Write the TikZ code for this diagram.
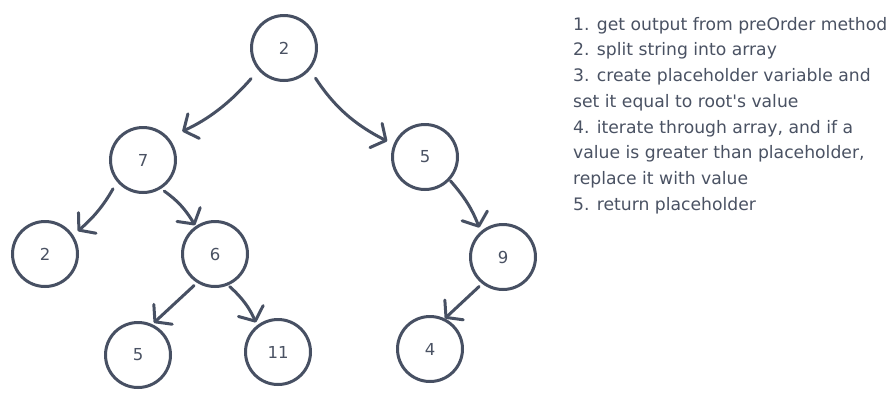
\documentclass[tikz,border=0pt]{standalone}
\usepackage{fontspec}
\setmainfont{DejaVu Sans}
\usetikzlibrary{arrows.meta}
\definecolor{slate}{HTML}{475063}
\definecolor{slatetext}{HTML}{4A5263}
\begin{document}
\begin{tikzpicture}[
  x=1pt, y=1pt,
  vertex/.style={
    draw=slate, circle, line width=3pt, minimum size=65pt, inner sep=0pt,
    text=slatetext, font=\fontsize{16.5}{18}\selectfont
  },
  link/.style={-{Straight Barb[length=11pt, width=27pt, round]}, line width=3pt,
    color=slate, line cap=round, line join=round, shorten <=4pt, shorten >=2pt},
  notes/.style={
    anchor=north west, align=left, inner sep=0pt,
    text=slatetext, font=\fontsize{17.2}{25.7}\selectfont
  }
]
  \fill[white] (0,0) rectangle (896,-400);
  \useasboundingbox (0,0) rectangle (896,-400);
  \node[vertex] (root) at (284,-48) {2};
  \node[vertex] (left7) at (143,-160) {7};
  \node[vertex] (right5) at (425,-157) {5};
  \node[vertex] (leaf2) at (45,-254) {2};
  \node[vertex] (mid6) at (215,-254) {6};
  \node[vertex] (right9) at (503,-257) {9};
  \node[vertex] (leaf5) at (138,-355) {5};
  \node[vertex] (leaf11) at (278,-352) {11};
  \node[vertex] (leaf4) at (430,-349) {4};
  \node[notes] (steps) at (573,-17) {1. get output from preOrder method\\2. split string into array\\3. create placeholder variable and\\set it equal to root\textquotesingle s value\\4. iterate through array, and if a\\value is greater than placeholder,\\replace it with value\\5. return placeholder};
  \draw[link, shorten <=11pt, shorten >=15pt] (root.221) to[bend left=12] (left7.41);
  \draw[link, shorten <=10pt, shorten >=7pt] (root.320) to[bend right=15] (right5.158);
  \draw[link, shorten <=8pt, shorten >=6pt] (left7.220) to[bend left=10] (leaf2.34);
  \draw[link, shorten >=1pt] (left7.302) to[bend left=12] (mid6.125);
  \draw[link] (mid6.238) -- (leaf5.65);
  \draw[link, shorten <=2pt, shorten >=3pt] (mid6.293) to[bend left=12] (leaf11.128);
  \draw[link, shorten <=1pt, shorten >=4pt] (right5.317) to[bend left=10] (right9.131);
  \draw[link, shorten >=0pt] (right9.232) -- (leaf4.64);
\end{tikzpicture}
\end{document}
